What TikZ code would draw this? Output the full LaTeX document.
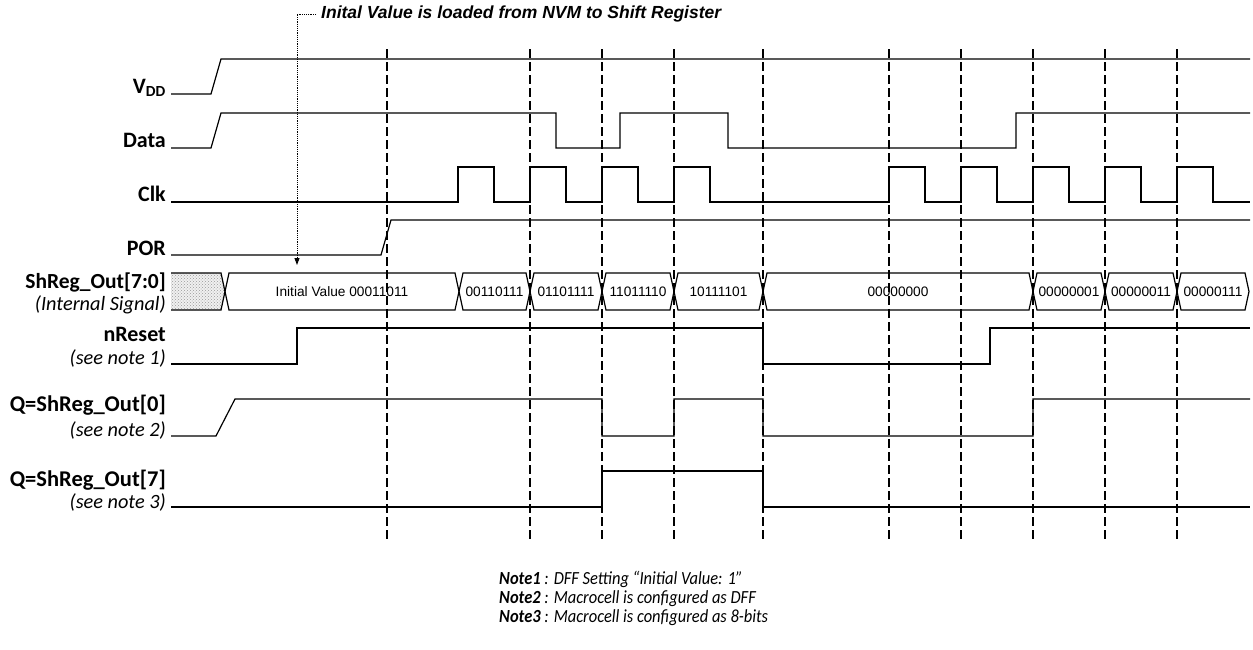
\documentclass[tikz,border=0pt]{standalone}
\usepackage{fontspec}
\setmainfont{Carlito}
\newfontfamily\arialfont{Liberation Sans}
\usetikzlibrary{arrows.meta,patterns}
\newcommand{\notesq}[1]{\scalebox{0.89}[1]{#1}}
\begin{document}
\begin{tikzpicture}[x=1pt,y=-1pt,
  sig/.style={line width=1.2pt, line join=miter},
  gridline/.style={line width=2pt, dash pattern=on 8.5pt off 4.5pt},
  lbl/.style={anchor=base east, font=\bfseries\fontsize{22}{24}\selectfont, inner sep=0pt},
  sublbl/.style={anchor=base east, font=\itshape\fontsize{20.3}{22}\selectfont, inner sep=0pt},
  busline/.style={line width=1.2pt, line join=miter},
  bustxt/.style={font=\arialfont\fontsize{13.7}{15}\selectfont, inner sep=0pt},
  notetxt/.style={anchor=base west, font=\itshape\fontsize{18.5}{19}\selectfont, inner sep=0pt},
  annline/.style={line width=0.9pt, dash pattern=on 1.2pt off 1pt}]
\useasboundingbox (0,0) rectangle (1253,649);

% vertical dashed clock markers
\foreach \x [count=\i] in {387,530,602,674,763,889,961,1033,1105,1177}
  \draw[gridline] (\x,49) -- (\x,543);

% labels
\node[lbl] (lvdd) at (166,93) {V\textsubscript{DD}};
\node[lbl] (ldata) at (166,147) {Data};
\node[lbl] (lclk) at (166,201) {Clk};
\node[lbl] (lpor) at (166,255) {POR};
\node[lbl, font=\bfseries\fontsize{21.5}{24}\selectfont] (lsh) at (166,288) {ShReg\_Out[7:0]};
\node[sublbl] (lsh2) at (166,310) {(Internal Signal)};
\node[lbl] (lnr) at (166,341) {nReset};
\node[sublbl] (lnr2) at (166,364) {(see note 1)};
\node[lbl, font=\bfseries\fontsize{22.5}{24}\selectfont] (lq0) at (166,411) {Q=ShReg\_Out[0]};
\node[sublbl] (lq02) at (166,436) {(see note 2)};
\node[lbl, font=\bfseries\fontsize{22.5}{24}\selectfont] (lq7) at (166,486) {Q=ShReg\_Out[7]};
\node[sublbl] (lq72) at (166,508) {(see note 3)};

% signals
\draw[sig] (171,94) -- (211,94) -- (221,59) -- (1250,59);
\draw[sig] (171,148) -- (211,148) -- (221,113) -- (556,113) -- (556,148) -- (620,148)
  -- (620,113) -- (728,113) -- (728,148) -- (1016,148) -- (1016,113) -- (1250,113);
\draw[sig] (171,202) foreach \p in {458,530,602,674,889,961,1033,1105,1177}
  { -- (\p,202) -- (\p,167) -- (\p+36,167) -- (\p+36,202) } -- (1250,202);
\draw[sig] (171,255) -- (381,255) -- (391,220) -- (1250,220);
\draw[sig] (171,364) -- (297,364) -- (297,328) -- (763,328) -- (763,364) -- (990,364)
  -- (990,328) -- (1250,328);
\draw[sig] (171,436) -- (216,436) -- (235,399) -- (602,399) -- (602,436) -- (674,436)
  -- (674,399) -- (763,399) -- (763,436) -- (1033,436) -- (1033,399) -- (1250,399);
\draw[sig] (171,507) -- (602,507) -- (602,471) -- (763,471) -- (763,507) -- (1250,507);

% bus
\fill[gray!12] (171,273) -- (221,273) -- (225,291.5) -- (221,310) -- (171,310) -- cycle;
\fill[pattern=crosshatch dots, pattern color=gray!80] (171,273) -- (221,273) -- (225,291.5) -- (221,310) -- (171,310) -- cycle;
\draw[busline] (171,273) -- (221,273) -- (225,291.5) -- (221,310) -- (171,310);
\foreach \a/\b/\t in {225/459/{Initial Value 00011011},459/530/00110111,530/602/01101111,
  602/674/11011110,674/763/10111101,763/1033/00000000,1033/1105/00000001,
  1105/1177/00000011,1177/1249/00000111} {
  \draw[busline] (\a,291.5) -- (\a+4,273) -- (\b-4,273) -- (\b,291.5) -- (\b-4,310)
    -- (\a+4,310) -- cycle;
  \node[bustxt] (bus\a) at ({(\a+\b)/2},292) {\t};
}

% annotation
\node[anchor=west, font=\arialfont\bfseries\itshape\fontsize{17.5}{19}\selectfont, inner sep=0pt]
  (ann) at (321,14) {Inital Value is loaded from NVM to Shift Register};
\coordinate (atip) at (297,265);
\draw[annline, -{Triangle[length=7pt,width=5pt]}] ([xshift=-5pt]ann.west) -| (atip);

% notes
\node[notetxt] (n1) at (499,584) {\notesq{\textbf{Note1} : DFF Setting “Initial Value: 1”}};
\node[notetxt] (n2) at (499,603) {\notesq{\textbf{Note2} : Macrocell is configured as DFF}};
\node[notetxt] (n3) at (499,622) {\notesq{\textbf{Note3} : Macrocell is configured as 8-bits}};
\end{tikzpicture}
\end{document}
